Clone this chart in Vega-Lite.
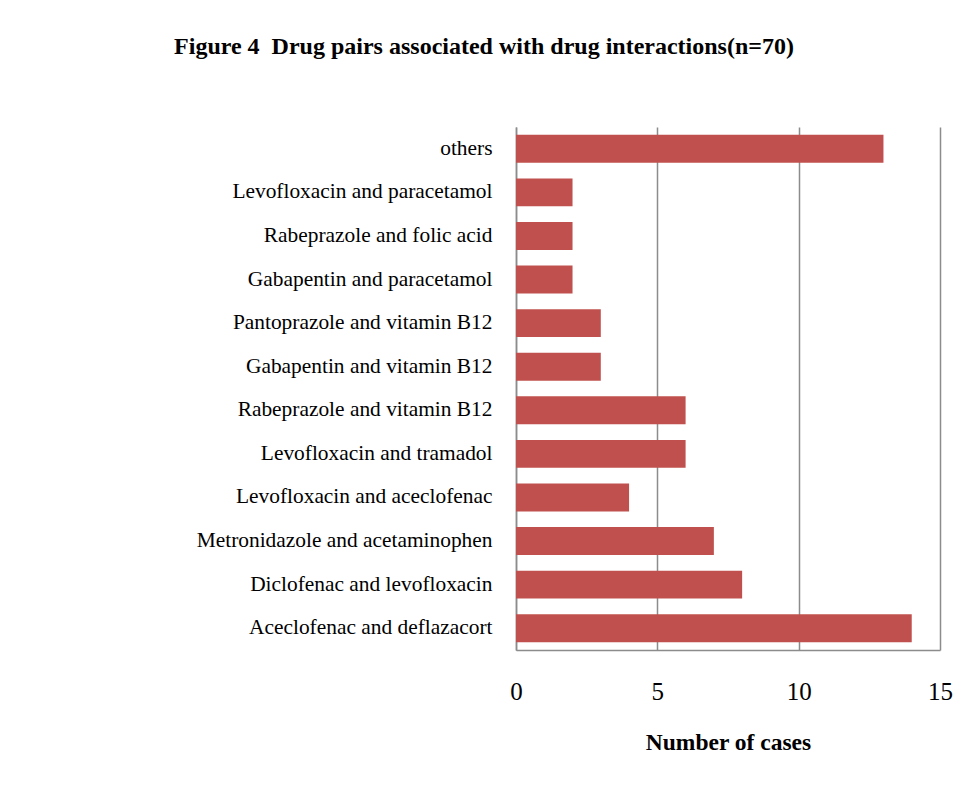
{
  "$schema": "https://vega.github.io/schema/vega-lite/v6.json",
  "autosize": {"type": "none"},
  "width": 424,
  "height": 523,
  "padding": {"left": 516, "top": 127, "right": 37, "bottom": 137},
  "background": "white",
  "title": {
    "text": "Figure 4\u00a0\u00a0Drug pairs associated with drug interactions(n=70)",
    "font": "Liberation Serif",
    "fontSize": 24,
    "fontWeight": "bold",
    "color": "black",
    "anchor": "middle",
    "dx": -244,
    "offset": 68
  },
  "data": {
    "values": [
      {"pair": "others", "cases": 13},
      {"pair": "Levofloxacin and paracetamol", "cases": 2},
      {"pair": "Rabeprazole and folic acid", "cases": 2},
      {"pair": "Gabapentin and paracetamol", "cases": 2},
      {"pair": "Pantoprazole and vitamin B12", "cases": 3},
      {"pair": "Gabapentin and vitamin B12", "cases": 3},
      {"pair": "Rabeprazole and vitamin B12", "cases": 6},
      {"pair": "Levofloxacin and tramadol", "cases": 6},
      {"pair": "Levofloxacin and aceclofenac", "cases": 4},
      {"pair": "Metronidazole and acetaminophen", "cases": 7},
      {"pair": "Diclofenac and levofloxacin", "cases": 8},
      {"pair": "Aceclofenac and deflazacort", "cases": 14}
    ]
  },
  "mark": {"type": "bar", "color": "#C0504D"},
  "encoding": {
    "y": {
      "field": "pair",
      "type": "nominal",
      "sort": null,
      "scale": {"paddingInner": 0.36, "paddingOuter": 0.18},
      "axis": {
        "title": null,
        "labelFont": "Liberation Serif",
        "labelFontSize": 21.4,
        "labelColor": "black",
        "labelPadding": 24,
        "ticks": false,
        "domainColor": "#8c8c8c",
        "domainWidth": 1.5,
        "labelLimit": 500
      }
    },
    "x": {
      "field": "cases",
      "type": "quantitative",
      "scale": {"domain": [0, 15], "nice": false},
      "axis": {
        "values": [0, 5, 10, 15],
        "title": "Number of cases",
        "titleFont": "Liberation Serif",
        "titleFontSize": 23.5,
        "titleFontWeight": "bold",
        "titleColor": "black",
        "titlePadding": 26,
        "labelFont": "Liberation Serif",
        "labelFontSize": 25,
        "labelColor": "black",
        "labelPadding": 29,
        "labelFlush": false,
        "labelOverlap": false,
        "ticks": false,
        "grid": true,
        "gridColor": "#8c8c8c",
        "gridWidth": 1.5,
        "domainColor": "#8c8c8c",
        "domainWidth": 1.5
      }
    }
  },
  "config": {"view": {"stroke": null}}
}
